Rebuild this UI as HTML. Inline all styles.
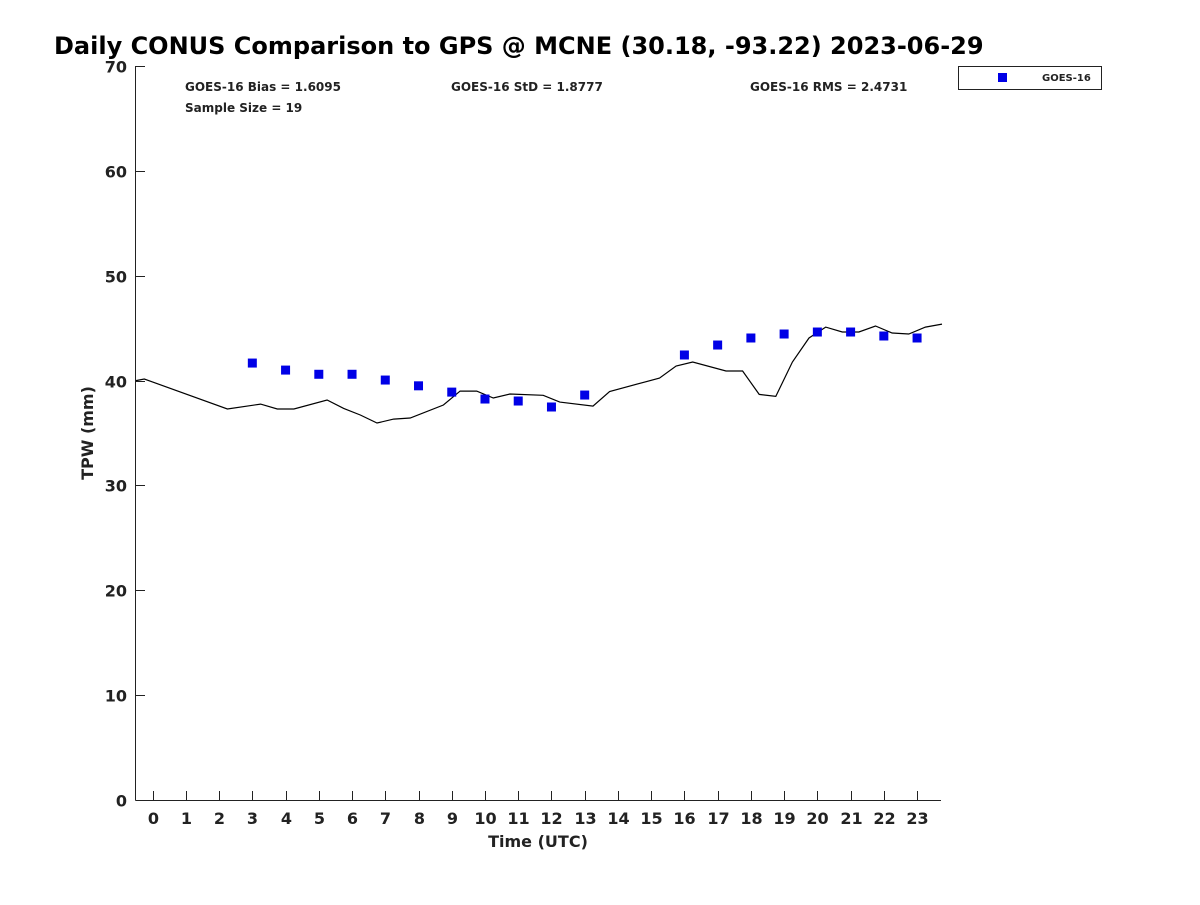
<!DOCTYPE html>
<html><head><meta charset="utf-8"><style>
body{margin:0;background:#fff;}
svg{font-family:"DejaVu Sans","Liberation Sans",sans-serif;}
</style></head><body>
<svg id="chart" width="1200" height="900" viewBox="0 0 1200 900">
<text x="54" y="54" font-size="24" font-weight="bold" fill="#000">Daily CONUS Comparison to GPS @ MCNE (30.18, -93.22) 2023-06-29</text>
<g id="axes"></g>
<g id="marks"></g>
<g font-size="12" font-weight="bold" fill="#222">
<text x="185" y="91">GOES-16 Bias = 1.6095</text>
<text x="451" y="91">GOES-16 StD = 1.8777</text>
<text x="750" y="91">GOES-16 RMS = 2.4731</text>
<text x="185" y="112">Sample Size = 19</text>
</g>
<g>
<rect x="958.5" y="66.5" width="143" height="23" fill="#fff" stroke="#222"/>
<rect x="998" y="73" width="9" height="9" fill="#0000e6"/>
<text x="1042" y="81" font-size="10" font-weight="bold" fill="#222">GOES-16</text>
</g>
<text transform="translate(93,433) rotate(-90)" text-anchor="middle" font-size="16" font-weight="bold" fill="#222">TPW (mm)</text>
<text x="538" y="847" text-anchor="middle" font-size="16" font-weight="bold" fill="#222">Time (UTC)</text>
</svg>
<script>
const lineTimes=[-0.5,-0.25,2.25,3.25,3.75,4.25,5.25,5.75,6.25,6.75,7.25,7.75,8.75,9.25,9.75,10.25,10.75,11.75,12.25,13.25,13.75,15.25,15.75,16.25,17.25,17.75,18.25,18.75,19.25,19.75,20.25,20.75,21.25,21.75,22.25,22.75,23.25,23.75];
const gpsValues=[40.0,40.15,37.29,37.76,37.29,37.29,38.15,37.35,36.72,35.95,36.33,36.43,37.67,39.0,39.0,38.34,38.72,38.6,37.95,37.57,38.96,40.24,41.39,41.77,40.91,40.91,38.68,38.49,41.77,44.06,45.1,44.63,44.63,45.2,44.54,44.44,45.1,45.39];
const goesHours=[3,4,5,6,7,8,9,10,11,12,13,16,17,18,19,20,21,22,23];
const goesValues=[41.67,41.0,40.6,40.6,40.05,39.5,38.9,38.24,38.05,37.48,38.62,42.44,43.39,44.06,44.44,44.63,44.63,44.25,44.06];
const xTicks=[0,1,2,3,4,5,6,7,8,9,10,11,12,13,14,15,16,17,18,19,20,21,22,23];
const yTicks=[0,10,20,30,40,50,60,70];
const NS="http://www.w3.org/2000/svg";
const X0=136,X1=941,Y0=800,Y1=66,XMIN=-0.5,XMAX=23.72,YMIN=0,YMAX=70;
function sx(v){return X0+(v-XMIN)/(XMAX-XMIN)*(X1-X0);}
function sy(v){return Y0-(v-YMIN)/(YMAX-YMIN)*(Y0-Y1);}
function mk(t,a,p){const e=document.createElementNS(NS,t);for(const k in a)e.setAttribute(k,a[k]);p.appendChild(e);return e;}
const axes=document.getElementById('axes'),marks=document.getElementById('marks');
let e=mk('line',{x1:135.5,y1:Y1,x2:135.5,y2:Y0+0.5,stroke:'#222','stroke-width':1},axes);


e=mk('line',{x1:135.5,y1:800.5,x2:X1,y2:800.5,stroke:'#222','stroke-width':1},axes);


xTicks.forEach(h=>{const x=Math.round(sx(h))+0.5;
 let t=mk('line',{x1:x,y1:800,x2:x,y2:791,stroke:'#222'},axes);
 
 
 let l=mk('text',{x:x,y:824,'text-anchor':'middle','font-size':16,'font-weight':'bold',fill:'#222'},axes);l.textContent=h;
 
 
});
yTicks.forEach(v=>{const y=Math.round(sy(v))+0.5;
 let t=mk('line',{x1:136,y1:y,x2:145,y2:y,stroke:'#222'},axes);
 
 
 let l=mk('text',{x:127,y:y+6,'text-anchor':'end','font-size':16,'font-weight':'bold',fill:'#222'},axes);l.textContent=v;
 
 
});
const pts=lineTimes.map((t,i)=>sx(t).toFixed(1)+','+sy(gpsValues[i]).toFixed(1)).join(' ');
e=mk('polyline',{points:pts,fill:'none',stroke:'#000','stroke-width':1.2},marks);


goesHours.forEach((h,i)=>{
 let r=mk('rect',{x:sx(h)-4.5,y:sy(goesValues[i])-4.5,width:9,height:9,fill:'#0000e6'},marks);
 
 
});
</script>
</body></html>
